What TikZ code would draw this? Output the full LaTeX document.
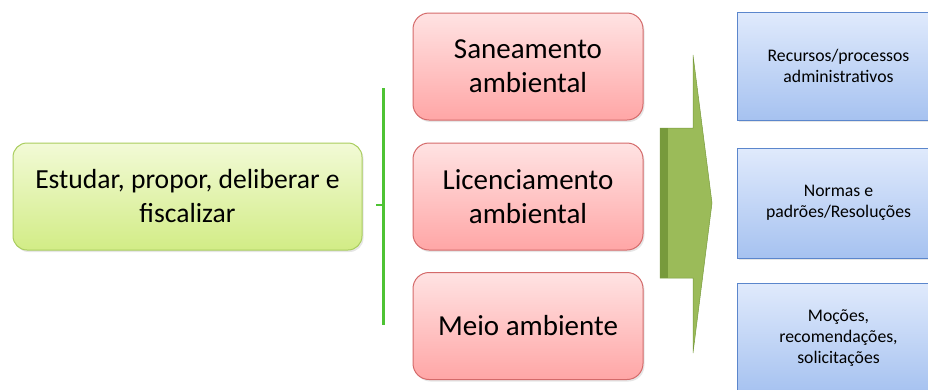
\documentclass[tikz,border=0pt]{standalone}
\usepackage{fontspec}
\setmainfont{Carlito}
\usepackage{tikz}
\usetikzlibrary{shadows}

\definecolor{goalborder}{HTML}{A9CD5E}
\definecolor{goaltop}{HTML}{F2FAD6}
\definecolor{goalbot}{HTML}{D2EC86}
\definecolor{themeborder}{HTML}{D46A6A}
\definecolor{themetop}{HTML}{FFE3E3}
\definecolor{themebot}{HTML}{FFA6A6}
\definecolor{outborder}{HTML}{5B86CC}
\definecolor{outtop}{HTML}{E0EAFC}
\definecolor{outbot}{HTML}{A6C2F0}
\definecolor{bracegreen}{HTML}{4EC334}
\definecolor{arrowfill}{HTML}{9BBB59}
\definecolor{arrowdark}{HTML}{779A3C}

\begin{document}
\begin{tikzpicture}[x=1pt, y=-1pt]
    \tikzstyle{goal} = [rectangle, rounded corners=14pt, draw=goalborder, line width=1pt, top color=goaltop, bottom color=goalbot, minimum width=349pt, minimum height=107pt, align=center, font=\fontsize{27.6}{34}\selectfont, drop shadow={shadow xshift=1.5pt, shadow yshift=-2pt, opacity=0.2}]
    \tikzstyle{theme} = [rectangle, rounded corners=16pt, draw=themeborder, line width=1pt, top color=themetop, bottom color=themebot, minimum width=230pt, minimum height=107pt, align=center, font=\fontsize{29}{34}\selectfont, drop shadow={shadow xshift=1.5pt, shadow yshift=-2pt, opacity=0.2}]
    \tikzstyle{result} = [rectangle, draw=outborder, line width=1pt, top color=outtop, bottom color=outbot, minimum width=203pt, align=center, font=\fontsize{17.7}{21}\selectfont, drop shadow={shadow xshift=1.5pt, shadow yshift=-2pt, opacity=0.2}]

    \useasboundingbox (0,0) rectangle (928,389);
    \clip (0,0) rectangle (928,389);

    % Goal
    \node[goal] (goal) at (187.5,196.5) {Estudar, propor, deliberar e\\fiscalizar};

    % Bracket
    \coordinate (brtop) at (383,88);
    \coordinate (brbot) at (383,325);
    \coordinate (brmid) at (383,205);
    \coordinate (brtick) at (376,205);
    \draw[bracegreen, line width=3pt] (brtop) -- (brbot);
    \draw[bracegreen, line width=1.5pt] (brmid) -- (brtick);

    % Themes
    \node[theme] (san) at (528,66.5) {Saneamento\\ambiental};
    \node[theme] (lic) at (528,196.5) {Licenciamento\\ambiental};
    \node[theme] (meio) at (528,326) {Meio ambiente};

    % Arrow
    \fill[arrowfill, draw=arrowdark, line width=0.5pt] (660,128) -- (693,128) -- (693,55) -- (712,203) -- (693,353) -- (693,278) -- (660,278) -- cycle;
    \fill[arrowdark] (660,128) rectangle (668,278);

    % Results
    \node[result, minimum height=108pt] (rec) at (838.5,66) {Recursos/processos\\administrativos};
    \node[result, minimum height=110pt] (nor) at (838.5,203) {Normas e\\padrões/Resoluções};
    \node[result, minimum height=110pt] (moc) at (838.5,338) {Moções,\\recomendações,\\solicitações};

\end{tikzpicture}
\end{document}
